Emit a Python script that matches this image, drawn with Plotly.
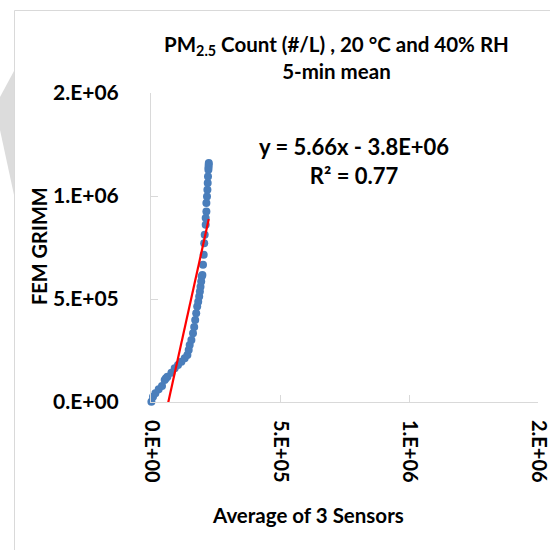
import plotly.graph_objects as go

# Data
sensor_avg = [1600, 7800, 17000, 29800, 42600, 53100, 58000, 63600, 79100, 91900, 104700,
              117800, 130600, 141100, 146100, 150000, 156600, 162800, 167400, 171300,
              175200, 179100, 183000, 186800, 189500, 191900, 194600, 196500, 199200,
              201600, 204300, 206200, 208100, 212000, 212000, 214700, 214700, 217000,
              218600, 219800, 220900, 222500, 223600, 223000, 224000]
fem_grimm = [1500, 25800, 42000, 61700, 77700, 106900, 115000, 122900, 142400, 163800, 179800,
             195800, 212300, 228400, 252700, 277000, 301300, 333800, 364400, 398400,
             431000, 463000, 487000, 511700, 536000, 560000, 584500, 608800, 617000,
             665700, 714300, 771000, 811500, 860000, 892600, 924700, 965500, 997600,
             1030000, 1062700, 1094800, 1127300, 1151600, 1140000, 1160000]

trend_slope = 5.66
trend_intercept = -3.8e5
equation_text = "y = 5.66x - 3.8E+06"
r2_text = "R² = 0.77"

x_tickvals = [0, 5e5, 1e6, 1.5e6]
x_ticktext = ["0.E+00", "5.E+05", "1.E+06", "2.E+06"]
y_tickvals = [0, 5e5, 1e6, 1.5e6]
y_ticktext = ["0.E+00", "5.E+05", "1.E+06", "2.E+06"]

title_text = "PM<sub>2.5</sub> Count (#/L) , 20 °C and 40% RH<br>5-min mean"
x_title = "Average of 3 Sensors"
y_title = "FEM GRIMM"

FONT = "Lato, 'Open Sans', sans-serif"
AXIS_GRAY = "#D9D9D9"

# plot area in pixels
L, R, T, B = 151, 538, 93, 402
W, H = 550, 550


def px(x):
    return (x - L) / (R - L)


def py(y):
    return (B - y) / (B - T)


trend_x = [min(sensor_avg), max(sensor_avg)]
trend_y = [trend_slope * v + trend_intercept for v in trend_x]

fig = go.Figure()
fig.add_trace(go.Scatter(
    x=sensor_avg, y=fem_grimm, mode="markers",
    marker=dict(size=8, color="#4A7EBB", line=dict(width=0)),
    showlegend=False, cliponaxis=False))
fig.add_trace(go.Scatter(
    x=trend_x, y=trend_y, mode="lines",
    line=dict(color="#FF0000", width=2.2), showlegend=False))

fig.update_layout(
    template="none",
    width=W, height=H,
    margin=dict(l=L, r=W - R, t=T, b=H - B, pad=0, autoexpand=False),
    paper_bgcolor="white", plot_bgcolor="white",
    font=dict(family=FONT, color="black", size=18),
    xaxis=dict(range=[0, 1.5e6], tickvals=x_tickvals, ticktext=x_ticktext,
               tickangle=90, ticks="inside", ticklen=7, tickcolor=AXIS_GRAY,
               showline=True, linecolor=AXIS_GRAY, linewidth=1, showgrid=False,
               zeroline=False, automargin=False, ticklabeloverflow="allow",
               tickfont=dict(family=FONT, size=20, weight="bold"),
               ticklabelstandoff=13),
    yaxis=dict(range=[0, 1.5e6], tickvals=y_tickvals, ticktext=y_ticktext,
               ticks="inside", ticklen=7, tickcolor=AXIS_GRAY,
               showline=True, linecolor=AXIS_GRAY, linewidth=1, showgrid=False,
               zeroline=False, automargin=False, ticklabeloverflow="allow",
               tickfont=dict(family=FONT, size=21, weight="bold"),
               ticklabelstandoff=27),
    shapes=[
        dict(type="line", xref="paper", yref="paper", x0=px(14.5), x1=px(550),
             y0=py(10.5), y1=py(10.5), line=dict(color=AXIS_GRAY, width=1)),
        dict(type="line", xref="paper", yref="paper", x0=px(14.5), x1=px(14.5),
             y0=py(10.5), y1=py(550), line=dict(color=AXIS_GRAY, width=1)),
        dict(type="path", xref="paper", yref="paper",
             path=f"M {px(14)} {py(71)} L {px(0)} {py(97)} L {px(0)} {py(130)} L {px(14)} {py(195)} Z",
             fillcolor="#DCDCDC", line=dict(width=0), layer="below"),
    ],
    annotations=[
        dict(xref="paper", yref="paper", x=px(336), y=py(57), text=title_text,
             showarrow=False, xanchor="center", yanchor="middle",
             font=dict(family=FONT, size=20.5, weight="bold")),
        dict(xref="paper", yref="paper", x=px(308), y=py(515), text=x_title,
             showarrow=False, xanchor="center", yanchor="middle",
             font=dict(family=FONT, size=20.5, weight="bold")),
        dict(xref="paper", yref="paper", x=px(39), y=py(246), text=y_title,
             showarrow=False, xanchor="center", yanchor="middle", textangle=-90,
             font=dict(family=FONT, size=20, weight="bold")),
        dict(xref="paper", yref="paper", x=px(354), y=py(161), text=equation_text + "<br>" + r2_text,
             showarrow=False, xanchor="center", yanchor="middle",
             font=dict(family=FONT, size=22, weight="bold")),
    ],
)

fig.write_html("out.html", config={"displayModeBar": False},
               post_script="document.body.style.margin='0';document.body.style.overflow='hidden';")
